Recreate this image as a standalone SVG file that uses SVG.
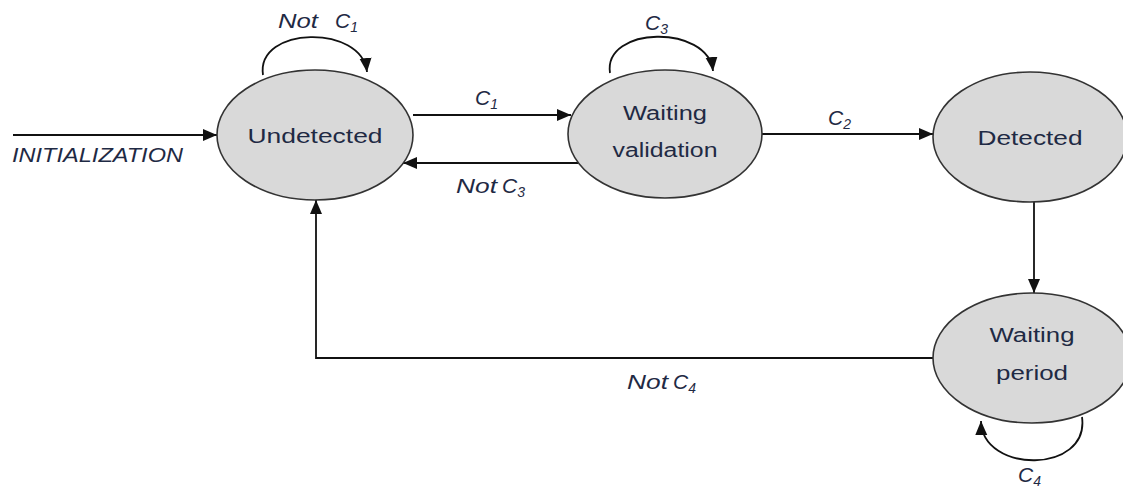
<svg xmlns="http://www.w3.org/2000/svg" width="1123" height="491" viewBox="0 0 1123 491">
<style>
.node ellipse{fill:#d9d9d9;stroke:#333;stroke-width:1.6}
.nt{font-family:"Liberation Sans",Arial,sans-serif;font-size:20px;fill:#1f2a44;text-anchor:middle}
.lb{font-family:"Liberation Sans",Arial,sans-serif;font-size:21px;font-style:italic;fill:#1f2a44}
.sub{font-size:14px}
.edge{fill:none;stroke:#111;stroke-width:1.8;marker-end:url(#ah)}
</style>
<defs>
<marker id="ah" markerUnits="userSpaceOnUse" markerWidth="16" markerHeight="14" refX="14" refY="6" orient="auto">
<path d="M0,0 L14,6 L0,12 Z" fill="#111"/>
</marker>
</defs>
<g id="connectors">
<path class="edge" d="M13,135 L217,135"/>
<path class="edge" d="M263,75 C256,26 362,24 367,72"/>
<path class="edge" d="M413,115 L571,115"/>
<path class="edge" d="M578,163 L403,163"/>
<path class="edge" d="M610,73 C603,26 708,24 713,71"/>
<path class="edge" d="M762,134 L933,134"/>
<path class="edge" d="M1034,202 L1034,293"/>
<path class="edge" d="M933,358 L316,358 L316,200"/>
<path class="edge" d="M1082,417 C1090,474 982,474 981,421"/>
</g>
<g id="labels">
<text class="lb" x="12" y="162" textLength="171" lengthAdjust="spacingAndGlyphs">INITIALIZATION</text>
<text class="lb" y="28"><tspan x="278" textLength="40" lengthAdjust="spacingAndGlyphs">Not</tspan><tspan x="335">C</tspan><tspan class="sub" dy="4">1</tspan></text>
<text class="lb" x="475" y="105">C<tspan class="sub" dy="4">1</tspan></text>
<text class="lb" y="193"><tspan x="456" textLength="41" lengthAdjust="spacingAndGlyphs">Not</tspan><tspan x="502">C</tspan><tspan class="sub" dy="4">3</tspan></text>
<text class="lb" x="645" y="30">C<tspan class="sub" dy="4">3</tspan></text>
<text class="lb" x="828" y="125">C<tspan class="sub" dy="4">2</tspan></text>
<text class="lb" y="389"><tspan x="627" textLength="41" lengthAdjust="spacingAndGlyphs">Not</tspan><tspan x="673">C</tspan><tspan class="sub" dy="4">4</tspan></text>
<text class="lb" x="1018" y="482">C<tspan class="sub" dy="4">4</tspan></text>
</g>
<g id="undetected" class="node">
<ellipse cx="315" cy="135" rx="98" ry="65"/>
<text class="nt" x="315" y="143" textLength="135" lengthAdjust="spacingAndGlyphs">Undetected</text>
</g>
<g id="waiting-validation" class="node">
<ellipse cx="665" cy="134" rx="97" ry="64"/>
<text class="nt" x="665" y="120" textLength="84" lengthAdjust="spacingAndGlyphs">Waiting</text>
<text class="nt" x="665" y="157" textLength="105" lengthAdjust="spacingAndGlyphs">validation</text>
</g>
<g id="detected" class="node">
<ellipse cx="1030" cy="137" rx="97" ry="65"/>
<text class="nt" x="1030" y="145" textLength="105" lengthAdjust="spacingAndGlyphs">Detected</text>
</g>
<g id="waiting-period" class="node">
<ellipse cx="1032" cy="358" rx="99" ry="65"/>
<text class="nt" x="1032" y="342" textLength="85" lengthAdjust="spacingAndGlyphs">Waiting</text>
<text class="nt" x="1032" y="380" textLength="72" lengthAdjust="spacingAndGlyphs">period</text>
</g>
</svg>
